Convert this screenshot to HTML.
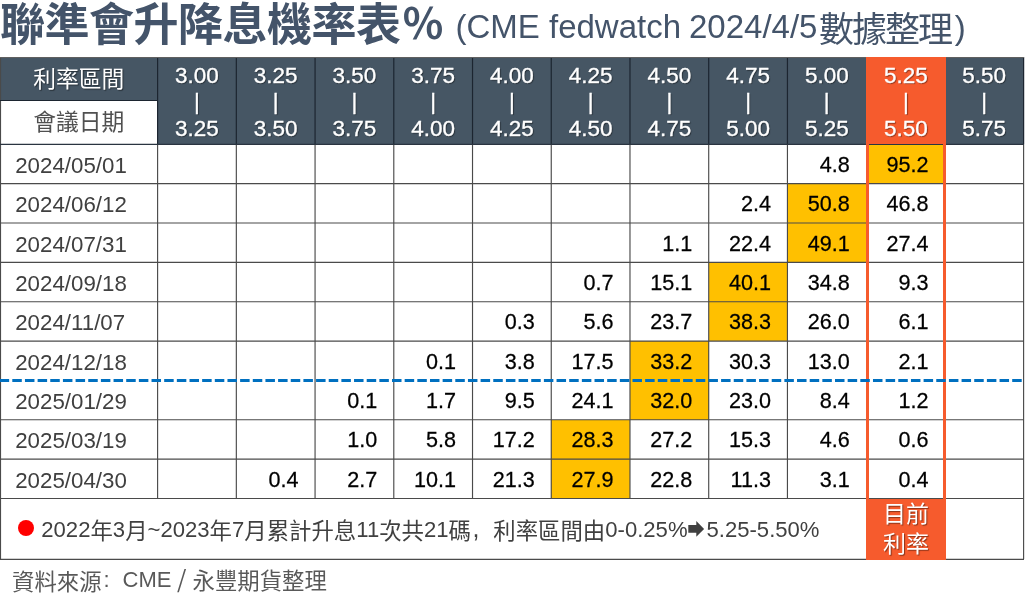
<!DOCTYPE html><html><head><meta charset="utf-8"><title>聯準會升降息機率表</title><style>
*{margin:0;padding:0;box-sizing:border-box}
html,body{width:1026px;height:594px;background:#fff;overflow:hidden}
body{will-change:transform}
body{position:relative;font-family:"Liberation Sans","Noto Sans CJK TC",sans-serif}
.a{position:absolute}
.t{position:absolute;white-space:nowrap;font-size:22px;line-height:26px}
.w{color:#fff;text-shadow:1px 1px 1px rgba(0,0,0,.45)}
.ws{-webkit-text-stroke:0.35px #fff}
.hd{text-align:center}
.num{text-align:right;color:#000;-webkit-text-stroke:0.25px #000}
.dt{color:#404040}
.c{font-family:"Noto Sans CJK TC",sans-serif}

</style></head><body>
<div class="t c" style="left:0px;top:-6px;font-size:45px;line-height:56px;font-weight:bold;color:#44546a;letter-spacing:-0.5px">聯準會升降息機率表</div>
<div class="t c" style="left:402px;top:-7.5px;font-size:42px;line-height:56px;font-weight:bold;color:#44546a">％</div>
<div class="t" style="left:455.5px;top:7px;font-size:33px;line-height:40px;color:#44546a">(CME fedwatch</div>
<div class="t" style="left:689px;top:7px;font-size:33px;line-height:40px;color:#44546a">2024/4/5</div>
<div class="t c" style="left:819px;top:4.5px;font-size:35px;line-height:44px;letter-spacing:-2px;color:#44546a">數據整理</div>
<div class="t" style="left:954.7px;top:7.5px;font-size:33px;line-height:40px;color:#44546a">)</div>
<div class="a" style="left:0.00px;top:57.00px;width:1024.00px;height:87.00px;background:#465664;"></div>
<div class="a" style="left:1.00px;top:100.50px;width:156.60px;height:43.50px;background:#fff;"></div>
<div class="a" style="left:865.90px;top:144.30px;width:80.20px;height:39.35px;background:#ffc000;"></div>
<div class="a" style="left:787.44px;top:183.65px;width:78.73px;height:39.35px;background:#ffc000;"></div>
<div class="a" style="left:787.44px;top:223.00px;width:78.73px;height:39.35px;background:#ffc000;"></div>
<div class="a" style="left:708.71px;top:262.35px;width:78.73px;height:39.35px;background:#ffc000;"></div>
<div class="a" style="left:708.71px;top:301.70px;width:78.73px;height:39.35px;background:#ffc000;"></div>
<div class="a" style="left:629.98px;top:341.05px;width:78.73px;height:39.35px;background:#ffc000;"></div>
<div class="a" style="left:629.98px;top:380.40px;width:78.73px;height:39.35px;background:#ffc000;"></div>
<div class="a" style="left:551.25px;top:419.75px;width:78.73px;height:39.35px;background:#ffc000;"></div>
<div class="a" style="left:551.25px;top:459.10px;width:78.73px;height:39.35px;background:#ffc000;"></div>
<svg class="a" style="left:0;top:0" width="1026" height="594" viewBox="0 0 1026 594"><line x1="157.60" y1="144" x2="157.60" y2="498" stroke="#4a4a4a" stroke-width="1.15"/><line x1="236.33" y1="144" x2="236.33" y2="498" stroke="#4a4a4a" stroke-width="1.15"/><line x1="315.06" y1="144" x2="315.06" y2="498" stroke="#4a4a4a" stroke-width="1.15"/><line x1="393.79" y1="144" x2="393.79" y2="498" stroke="#4a4a4a" stroke-width="1.15"/><line x1="472.52" y1="144" x2="472.52" y2="498" stroke="#4a4a4a" stroke-width="1.15"/><line x1="551.25" y1="144" x2="551.25" y2="498" stroke="#4a4a4a" stroke-width="1.15"/><line x1="629.98" y1="144" x2="629.98" y2="498" stroke="#4a4a4a" stroke-width="1.15"/><line x1="708.71" y1="144" x2="708.71" y2="498" stroke="#4a4a4a" stroke-width="1.15"/><line x1="787.44" y1="144" x2="787.44" y2="498" stroke="#4a4a4a" stroke-width="1.15"/><line x1="157.60" y1="57" x2="157.60" y2="144" stroke="#1c2530" stroke-width="1.2"/><line x1="236.33" y1="57" x2="236.33" y2="144" stroke="#1c2530" stroke-width="1.2"/><line x1="315.06" y1="57" x2="315.06" y2="144" stroke="#1c2530" stroke-width="1.2"/><line x1="393.79" y1="57" x2="393.79" y2="144" stroke="#1c2530" stroke-width="1.2"/><line x1="472.52" y1="57" x2="472.52" y2="144" stroke="#1c2530" stroke-width="1.2"/><line x1="551.25" y1="57" x2="551.25" y2="144" stroke="#1c2530" stroke-width="1.2"/><line x1="629.98" y1="57" x2="629.98" y2="144" stroke="#1c2530" stroke-width="1.2"/><line x1="708.71" y1="57" x2="708.71" y2="144" stroke="#1c2530" stroke-width="1.2"/><line x1="787.44" y1="57" x2="787.44" y2="144" stroke="#1c2530" stroke-width="1.2"/><line x1="1023.63" y1="57" x2="1023.63" y2="144" stroke="#1c2530" stroke-width="1.2"/><line x1="0.5" y1="57" x2="0.5" y2="559" stroke="#4a4a4a" stroke-width="1.15"/><line x1="1023.6" y1="144" x2="1023.6" y2="559" stroke="#4a4a4a" stroke-width="1.15"/><line x1="0" y1="57.5" x2="1024" y2="57.5" stroke="#606060" stroke-width="1.2"/><line x1="0" y1="100.5" x2="157.60" y2="100.5" stroke="#1c2530" stroke-width="1.2"/><line x1="0" y1="144.3" x2="1024" y2="144.3" stroke="#2a3440" stroke-width="1.2"/><line x1="0" y1="183.65" x2="1024" y2="183.65" stroke="#4a4a4a" stroke-width="1.15"/><line x1="0" y1="223.00" x2="1024" y2="223.00" stroke="#4a4a4a" stroke-width="1.15"/><line x1="0" y1="262.35" x2="1024" y2="262.35" stroke="#4a4a4a" stroke-width="1.15"/><line x1="0" y1="301.70" x2="1024" y2="301.70" stroke="#4a4a4a" stroke-width="1.15"/><line x1="0" y1="341.05" x2="1024" y2="341.05" stroke="#4a4a4a" stroke-width="1.15"/><line x1="0" y1="419.75" x2="1024" y2="419.75" stroke="#4a4a4a" stroke-width="1.15"/><line x1="0" y1="459.10" x2="1024" y2="459.10" stroke="#4a4a4a" stroke-width="1.15"/><line x1="0" y1="498.45" x2="1024" y2="498.45" stroke="#4a4a4a" stroke-width="1.15"/><line x1="0" y1="559.3" x2="1024" y2="559.3" stroke="#4a4a4a" stroke-width="1.15"/></svg>
<div class="a" style="left:865.90px;top:57.00px;width:80.20px;height:87.00px;background:#f65b2d;"></div>
<div class="a" style="left:865.90px;top:498.50px;width:80.20px;height:61.00px;background:#f65b2d;"></div>
<div class="a" style="left:865.90px;top:143.00px;width:3.10px;height:356.00px;background:#f65b2d;"></div>
<div class="a" style="left:943.00px;top:143.00px;width:3.10px;height:356.00px;background:#f65b2d;"></div>
<svg class="a" style="left:0;top:0" width="1026" height="594"><line x1="0" y1="380.5" x2="1022" y2="380.5" stroke="#0070c0" stroke-width="3" stroke-dasharray="9.5 3.157" stroke-dashoffset="0.36"/></svg>
<div class="t w hd c" style="left:0;width:157.60px;top:65px;font-size:22.8px">利率區間</div>
<div class="t hd c" style="left:0;width:157.60px;top:108px;font-size:22.8px;color:#505050">會議日期</div>
<div class="t w ws hd" style="left:157.60px;width:78.73px;top:63.30px;font-size:22.5px;line-height:26.4px;transform:scaleY(1.0);transform-origin:50% 21px">3.00</div>
<div class="t w ws hd" style="left:157.60px;width:78.73px;top:89.00px;font-size:22.5px;line-height:26.4px;transform:scaleY(1.0);transform-origin:50% 21px">|</div>
<div class="t w ws hd" style="left:157.60px;width:78.73px;top:115.70px;font-size:22.5px;line-height:26.4px;transform:scaleY(1.0);transform-origin:50% 21px">3.25</div>
<div class="t w ws hd" style="left:236.33px;width:78.73px;top:63.30px;font-size:22.5px;line-height:26.4px;transform:scaleY(1.0);transform-origin:50% 21px">3.25</div>
<div class="t w ws hd" style="left:236.33px;width:78.73px;top:89.00px;font-size:22.5px;line-height:26.4px;transform:scaleY(1.0);transform-origin:50% 21px">|</div>
<div class="t w ws hd" style="left:236.33px;width:78.73px;top:115.70px;font-size:22.5px;line-height:26.4px;transform:scaleY(1.0);transform-origin:50% 21px">3.50</div>
<div class="t w ws hd" style="left:315.06px;width:78.73px;top:63.30px;font-size:22.5px;line-height:26.4px;transform:scaleY(1.0);transform-origin:50% 21px">3.50</div>
<div class="t w ws hd" style="left:315.06px;width:78.73px;top:89.00px;font-size:22.5px;line-height:26.4px;transform:scaleY(1.0);transform-origin:50% 21px">|</div>
<div class="t w ws hd" style="left:315.06px;width:78.73px;top:115.70px;font-size:22.5px;line-height:26.4px;transform:scaleY(1.0);transform-origin:50% 21px">3.75</div>
<div class="t w ws hd" style="left:393.79px;width:78.73px;top:63.30px;font-size:22.5px;line-height:26.4px;transform:scaleY(1.0);transform-origin:50% 21px">3.75</div>
<div class="t w ws hd" style="left:393.79px;width:78.73px;top:89.00px;font-size:22.5px;line-height:26.4px;transform:scaleY(1.0);transform-origin:50% 21px">|</div>
<div class="t w ws hd" style="left:393.79px;width:78.73px;top:115.70px;font-size:22.5px;line-height:26.4px;transform:scaleY(1.0);transform-origin:50% 21px">4.00</div>
<div class="t w ws hd" style="left:472.52px;width:78.73px;top:63.30px;font-size:22.5px;line-height:26.4px;transform:scaleY(1.0);transform-origin:50% 21px">4.00</div>
<div class="t w ws hd" style="left:472.52px;width:78.73px;top:89.00px;font-size:22.5px;line-height:26.4px;transform:scaleY(1.0);transform-origin:50% 21px">|</div>
<div class="t w ws hd" style="left:472.52px;width:78.73px;top:115.70px;font-size:22.5px;line-height:26.4px;transform:scaleY(1.0);transform-origin:50% 21px">4.25</div>
<div class="t w ws hd" style="left:551.25px;width:78.73px;top:63.30px;font-size:22.5px;line-height:26.4px;transform:scaleY(1.0);transform-origin:50% 21px">4.25</div>
<div class="t w ws hd" style="left:551.25px;width:78.73px;top:89.00px;font-size:22.5px;line-height:26.4px;transform:scaleY(1.0);transform-origin:50% 21px">|</div>
<div class="t w ws hd" style="left:551.25px;width:78.73px;top:115.70px;font-size:22.5px;line-height:26.4px;transform:scaleY(1.0);transform-origin:50% 21px">4.50</div>
<div class="t w ws hd" style="left:629.98px;width:78.73px;top:63.30px;font-size:22.5px;line-height:26.4px;transform:scaleY(1.0);transform-origin:50% 21px">4.50</div>
<div class="t w ws hd" style="left:629.98px;width:78.73px;top:89.00px;font-size:22.5px;line-height:26.4px;transform:scaleY(1.0);transform-origin:50% 21px">|</div>
<div class="t w ws hd" style="left:629.98px;width:78.73px;top:115.70px;font-size:22.5px;line-height:26.4px;transform:scaleY(1.0);transform-origin:50% 21px">4.75</div>
<div class="t w ws hd" style="left:708.71px;width:78.73px;top:63.30px;font-size:22.5px;line-height:26.4px;transform:scaleY(1.0);transform-origin:50% 21px">4.75</div>
<div class="t w ws hd" style="left:708.71px;width:78.73px;top:89.00px;font-size:22.5px;line-height:26.4px;transform:scaleY(1.0);transform-origin:50% 21px">|</div>
<div class="t w ws hd" style="left:708.71px;width:78.73px;top:115.70px;font-size:22.5px;line-height:26.4px;transform:scaleY(1.0);transform-origin:50% 21px">5.00</div>
<div class="t w ws hd" style="left:787.44px;width:78.73px;top:63.30px;font-size:22.5px;line-height:26.4px;transform:scaleY(1.0);transform-origin:50% 21px">5.00</div>
<div class="t w ws hd" style="left:787.44px;width:78.73px;top:89.00px;font-size:22.5px;line-height:26.4px;transform:scaleY(1.0);transform-origin:50% 21px">|</div>
<div class="t w ws hd" style="left:787.44px;width:78.73px;top:115.70px;font-size:22.5px;line-height:26.4px;transform:scaleY(1.0);transform-origin:50% 21px">5.25</div>
<div class="t w ws hd" style="left:865.90px;width:80.20px;top:63.30px;font-size:22.5px;line-height:26.4px;transform:scaleY(1.0);transform-origin:50% 21px">5.25</div>
<div class="t w ws hd" style="left:865.90px;width:80.20px;top:89.00px;font-size:22.5px;line-height:26.4px;transform:scaleY(1.0);transform-origin:50% 21px">|</div>
<div class="t w ws hd" style="left:865.90px;width:80.20px;top:115.70px;font-size:22.5px;line-height:26.4px;transform:scaleY(1.0);transform-origin:50% 21px">5.50</div>
<div class="t w ws hd" style="left:944.90px;width:78.73px;top:63.30px;font-size:22.5px;line-height:26.4px;transform:scaleY(1.0);transform-origin:50% 21px">5.50</div>
<div class="t w ws hd" style="left:944.90px;width:78.73px;top:89.00px;font-size:22.5px;line-height:26.4px;transform:scaleY(1.0);transform-origin:50% 21px">|</div>
<div class="t w ws hd" style="left:944.90px;width:78.73px;top:115.70px;font-size:22.5px;line-height:26.4px;transform:scaleY(1.0);transform-origin:50% 21px">5.75</div>
<div class="t dt" style="left:15.2px;top:153.00px;font-size:22.3px;transform:scaleY(1.03);transform-origin:0 20.6px">2024/05/01</div>
<div class="t num" style="left:766.17px;width:83.50px;top:152.00px;font-size:21.6px;transform:scaleY(1.06);transform-origin:0 20.5px">4.8</div>
<div class="t num" style="left:845.10px;width:83.50px;top:152.00px;font-size:21.6px;transform:scaleY(1.06);transform-origin:0 20.5px">95.2</div>
<div class="t dt" style="left:15.2px;top:192.35px;font-size:22.3px;transform:scaleY(1.03);transform-origin:0 20.6px">2024/06/12</div>
<div class="t num" style="left:687.44px;width:83.50px;top:191.35px;font-size:21.6px;transform:scaleY(1.06);transform-origin:0 20.5px">2.4</div>
<div class="t num" style="left:766.17px;width:83.50px;top:191.35px;font-size:21.6px;transform:scaleY(1.06);transform-origin:0 20.5px">50.8</div>
<div class="t num" style="left:845.10px;width:83.50px;top:191.35px;font-size:21.6px;transform:scaleY(1.06);transform-origin:0 20.5px">46.8</div>
<div class="t dt" style="left:15.2px;top:231.70px;font-size:22.3px;transform:scaleY(1.03);transform-origin:0 20.6px">2024/07/31</div>
<div class="t num" style="left:608.71px;width:83.50px;top:230.70px;font-size:21.6px;transform:scaleY(1.06);transform-origin:0 20.5px">1.1</div>
<div class="t num" style="left:687.44px;width:83.50px;top:230.70px;font-size:21.6px;transform:scaleY(1.06);transform-origin:0 20.5px">22.4</div>
<div class="t num" style="left:766.17px;width:83.50px;top:230.70px;font-size:21.6px;transform:scaleY(1.06);transform-origin:0 20.5px">49.1</div>
<div class="t num" style="left:845.10px;width:83.50px;top:230.70px;font-size:21.6px;transform:scaleY(1.06);transform-origin:0 20.5px">27.4</div>
<div class="t dt" style="left:15.2px;top:271.05px;font-size:22.3px;transform:scaleY(1.03);transform-origin:0 20.6px">2024/09/18</div>
<div class="t num" style="left:529.98px;width:83.50px;top:270.05px;font-size:21.6px;transform:scaleY(1.06);transform-origin:0 20.5px">0.7</div>
<div class="t num" style="left:608.71px;width:83.50px;top:270.05px;font-size:21.6px;transform:scaleY(1.06);transform-origin:0 20.5px">15.1</div>
<div class="t num" style="left:687.44px;width:83.50px;top:270.05px;font-size:21.6px;transform:scaleY(1.06);transform-origin:0 20.5px">40.1</div>
<div class="t num" style="left:766.17px;width:83.50px;top:270.05px;font-size:21.6px;transform:scaleY(1.06);transform-origin:0 20.5px">34.8</div>
<div class="t num" style="left:845.10px;width:83.50px;top:270.05px;font-size:21.6px;transform:scaleY(1.06);transform-origin:0 20.5px">9.3</div>
<div class="t dt" style="left:15.2px;top:310.40px;font-size:22.3px;transform:scaleY(1.03);transform-origin:0 20.6px">2024/11/07</div>
<div class="t num" style="left:451.25px;width:83.50px;top:309.40px;font-size:21.6px;transform:scaleY(1.06);transform-origin:0 20.5px">0.3</div>
<div class="t num" style="left:529.98px;width:83.50px;top:309.40px;font-size:21.6px;transform:scaleY(1.06);transform-origin:0 20.5px">5.6</div>
<div class="t num" style="left:608.71px;width:83.50px;top:309.40px;font-size:21.6px;transform:scaleY(1.06);transform-origin:0 20.5px">23.7</div>
<div class="t num" style="left:687.44px;width:83.50px;top:309.40px;font-size:21.6px;transform:scaleY(1.06);transform-origin:0 20.5px">38.3</div>
<div class="t num" style="left:766.17px;width:83.50px;top:309.40px;font-size:21.6px;transform:scaleY(1.06);transform-origin:0 20.5px">26.0</div>
<div class="t num" style="left:845.10px;width:83.50px;top:309.40px;font-size:21.6px;transform:scaleY(1.06);transform-origin:0 20.5px">6.1</div>
<div class="t dt" style="left:15.2px;top:349.75px;font-size:22.3px;transform:scaleY(1.03);transform-origin:0 20.6px">2024/12/18</div>
<div class="t num" style="left:372.52px;width:83.50px;top:348.75px;font-size:21.6px;transform:scaleY(1.06);transform-origin:0 20.5px">0.1</div>
<div class="t num" style="left:451.25px;width:83.50px;top:348.75px;font-size:21.6px;transform:scaleY(1.06);transform-origin:0 20.5px">3.8</div>
<div class="t num" style="left:529.98px;width:83.50px;top:348.75px;font-size:21.6px;transform:scaleY(1.06);transform-origin:0 20.5px">17.5</div>
<div class="t num" style="left:608.71px;width:83.50px;top:348.75px;font-size:21.6px;transform:scaleY(1.06);transform-origin:0 20.5px">33.2</div>
<div class="t num" style="left:687.44px;width:83.50px;top:348.75px;font-size:21.6px;transform:scaleY(1.06);transform-origin:0 20.5px">30.3</div>
<div class="t num" style="left:766.17px;width:83.50px;top:348.75px;font-size:21.6px;transform:scaleY(1.06);transform-origin:0 20.5px">13.0</div>
<div class="t num" style="left:845.10px;width:83.50px;top:348.75px;font-size:21.6px;transform:scaleY(1.06);transform-origin:0 20.5px">2.1</div>
<div class="t dt" style="left:15.2px;top:389.10px;font-size:22.3px;transform:scaleY(1.03);transform-origin:0 20.6px">2025/01/29</div>
<div class="t num" style="left:293.79px;width:83.50px;top:388.10px;font-size:21.6px;transform:scaleY(1.06);transform-origin:0 20.5px">0.1</div>
<div class="t num" style="left:372.52px;width:83.50px;top:388.10px;font-size:21.6px;transform:scaleY(1.06);transform-origin:0 20.5px">1.7</div>
<div class="t num" style="left:451.25px;width:83.50px;top:388.10px;font-size:21.6px;transform:scaleY(1.06);transform-origin:0 20.5px">9.5</div>
<div class="t num" style="left:529.98px;width:83.50px;top:388.10px;font-size:21.6px;transform:scaleY(1.06);transform-origin:0 20.5px">24.1</div>
<div class="t num" style="left:608.71px;width:83.50px;top:388.10px;font-size:21.6px;transform:scaleY(1.06);transform-origin:0 20.5px">32.0</div>
<div class="t num" style="left:687.44px;width:83.50px;top:388.10px;font-size:21.6px;transform:scaleY(1.06);transform-origin:0 20.5px">23.0</div>
<div class="t num" style="left:766.17px;width:83.50px;top:388.10px;font-size:21.6px;transform:scaleY(1.06);transform-origin:0 20.5px">8.4</div>
<div class="t num" style="left:845.10px;width:83.50px;top:388.10px;font-size:21.6px;transform:scaleY(1.06);transform-origin:0 20.5px">1.2</div>
<div class="t dt" style="left:15.2px;top:428.45px;font-size:22.3px;transform:scaleY(1.03);transform-origin:0 20.6px">2025/03/19</div>
<div class="t num" style="left:293.79px;width:83.50px;top:427.45px;font-size:21.6px;transform:scaleY(1.06);transform-origin:0 20.5px">1.0</div>
<div class="t num" style="left:372.52px;width:83.50px;top:427.45px;font-size:21.6px;transform:scaleY(1.06);transform-origin:0 20.5px">5.8</div>
<div class="t num" style="left:451.25px;width:83.50px;top:427.45px;font-size:21.6px;transform:scaleY(1.06);transform-origin:0 20.5px">17.2</div>
<div class="t num" style="left:529.98px;width:83.50px;top:427.45px;font-size:21.6px;transform:scaleY(1.06);transform-origin:0 20.5px">28.3</div>
<div class="t num" style="left:608.71px;width:83.50px;top:427.45px;font-size:21.6px;transform:scaleY(1.06);transform-origin:0 20.5px">27.2</div>
<div class="t num" style="left:687.44px;width:83.50px;top:427.45px;font-size:21.6px;transform:scaleY(1.06);transform-origin:0 20.5px">15.3</div>
<div class="t num" style="left:766.17px;width:83.50px;top:427.45px;font-size:21.6px;transform:scaleY(1.06);transform-origin:0 20.5px">4.6</div>
<div class="t num" style="left:845.10px;width:83.50px;top:427.45px;font-size:21.6px;transform:scaleY(1.06);transform-origin:0 20.5px">0.6</div>
<div class="t dt" style="left:15.2px;top:467.80px;font-size:22.3px;transform:scaleY(1.03);transform-origin:0 20.6px">2025/04/30</div>
<div class="t num" style="left:215.06px;width:83.50px;top:466.80px;font-size:21.6px;transform:scaleY(1.06);transform-origin:0 20.5px">0.4</div>
<div class="t num" style="left:293.79px;width:83.50px;top:466.80px;font-size:21.6px;transform:scaleY(1.06);transform-origin:0 20.5px">2.7</div>
<div class="t num" style="left:372.52px;width:83.50px;top:466.80px;font-size:21.6px;transform:scaleY(1.06);transform-origin:0 20.5px">10.1</div>
<div class="t num" style="left:451.25px;width:83.50px;top:466.80px;font-size:21.6px;transform:scaleY(1.06);transform-origin:0 20.5px">21.3</div>
<div class="t num" style="left:529.98px;width:83.50px;top:466.80px;font-size:21.6px;transform:scaleY(1.06);transform-origin:0 20.5px">27.9</div>
<div class="t num" style="left:608.71px;width:83.50px;top:466.80px;font-size:21.6px;transform:scaleY(1.06);transform-origin:0 20.5px">22.8</div>
<div class="t num" style="left:687.44px;width:83.50px;top:466.80px;font-size:21.6px;transform:scaleY(1.06);transform-origin:0 20.5px">11.3</div>
<div class="t num" style="left:766.17px;width:83.50px;top:466.80px;font-size:21.6px;transform:scaleY(1.06);transform-origin:0 20.5px">3.1</div>
<div class="t num" style="left:845.10px;width:83.50px;top:466.80px;font-size:21.6px;transform:scaleY(1.06);transform-origin:0 20.5px">0.4</div>
<div class="a" style="left:18px;top:520px;width:16px;height:16px;border-radius:50%;background:#ff0000"></div>
<div class="t" style="left:41.3px;top:517px;color:#404040;font-size:22.1px">2022<span class="c" style="position:relative;top:2px;font-size:22.4px;line-height:0">年</span>3<span class="c" style="position:relative;top:2px;font-size:22.4px;line-height:0">月</span>~2023<span class="c" style="position:relative;top:2px;font-size:22.4px;line-height:0">年</span>7<span class="c" style="position:relative;top:2px;font-size:22.4px;line-height:0">月累計升息</span>11<span class="c" style="position:relative;top:2px;font-size:22.4px;line-height:0">次共</span>21<span class="c" style="position:relative;top:2px;font-size:22.4px;line-height:0">碼</span><span style="display:inline-block;width:22.4px;padding-left:1.6px;font-size:25px;line-height:0">,</span><span class="c" style="position:relative;top:2px;font-size:22.4px;line-height:0">利率區間由</span>0-0.25%</div>
<svg class="a" style="left:688px;top:521px" width="17" height="16" viewBox="0 0 17 16"><path d="M0.3 4.1H8.3V0.1L16.1 7.9L8.3 15.7V11.8H0.3Z" fill="#404040"/></svg>
<div class="t" style="left:706.5px;top:517px;color:#404040;font-size:22.1px">5.25-5.50%</div>
<div class="t w hd c" style="left:865.90px;width:80.20px;top:497px;font-size:23px;line-height:30.4px">目前<br>利率</div>
<div class="t c" style="left:12px;top:566.5px;color:#595959;font-size:22.4px">資料來源</div>
<div class="t" style="left:103.4px;top:567px;color:#595959;font-size:22px">:</div>
<div class="t" style="left:122.6px;top:567px;color:#595959;font-size:22px">CME</div>
<div class="t c" style="left:177px;top:565px;color:#595959;font-size:24px">/</div>
<div class="t c" style="left:192.5px;top:566px;color:#595959;font-size:22.4px">永豐期貨整理</div>
</body></html>
